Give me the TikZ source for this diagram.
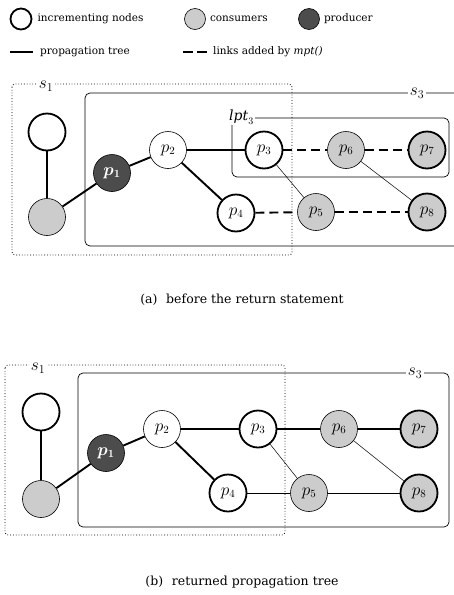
\documentclass[tikz,border=0pt]{standalone}
\usepackage{amsmath,amssymb}
\usepackage{fontspec}
\setmainfont{DejaVu Serif}
\usepackage{tikz}
\usetikzlibrary{positioning}

\begin{document}
\begin{tikzpicture}[x=1pt,y=-1pt]
\tikzstyle{vertex}=[circle,draw,fill=white,minimum size=37pt,inner sep=0pt,font=\fontsize{16}{16}\selectfont]
\tikzstyle{incr}=[vertex,line width=1.8pt]
\tikzstyle{cons}=[vertex,fill=black!20,line width=.6pt]
\tikzstyle{prod}=[vertex,fill=black!70,text=white,line width=.6pt]
\tikzstyle{tree}=[line width=1.9pt]
\tikzstyle{added}=[line width=1.9pt,dash pattern=on 9pt off 5pt]
\tikzstyle{link}=[line width=.5pt]
\tikzstyle{setlabel}=[fill=white,inner sep=2pt,font=\fontsize{18}{18}\selectfont]
\tikzstyle{legend}=[minimum size=21pt]
\tikzstyle{legtext}=[inner sep=0pt,font=\fontsize{10.5}{12}\selectfont]
\tikzstyle{caption}=[font=\fontsize{12.5}{14}\selectfont]
\useasboundingbox (0,0) rectangle (453,595);
% legend
    \node[incr,legend] (lgincr) at (21,19) {};
    \node[legtext,right=5pt of lgincr] {incrementing nodes};
    \node[cons,legend] (lgcons) at (195,19) {};
    \node[legtext,right=4pt of lgcons] {consumers};
    \node[prod,legend] (lgprod) at (309,19) {};
    \node[legtext,right=4pt of lgprod] {producer};
    \coordinate (lt1) at (10,52);
    \coordinate (lt2) at (33,52);
    \draw[tree] (lt1) -- (lt2);
    \node[legtext,right=7pt of lt2] {propagation tree};
    \coordinate (ld1) at (183,52);
    \coordinate (ld2) at (207,52);
    \draw[added,dash pattern=on 10pt off 4pt] (ld1) -- (ld2);
    \node[legtext,right=6pt of ld2] {links added by \textit{mpt()}};
% (a) before the return statement
    \draw[dotted,line width=.8pt,rounded corners=3pt] (12,84) rectangle (292,255);
    \node[setlabel] at (46,86) {$s_1$};
    \draw[line width=.7pt,rounded corners=5pt] (455,93) -- (85,93) -- (85,246) -- (455,246);
    \node[setlabel] at (417,93) {$s_3$};
    \draw[line width=.7pt,rounded corners=5pt] (232,118) rectangle (449,177);
    \node[setlabel,anchor=west,font=\fontsize{14}{14}\selectfont,inner sep=1pt] at (228,117) {$\mathit{lpt}_3$};
    \node[incr] (ai) at (47,132) {};
    \node[cons] (ac) at (47,217) {};
    \node[prod] (a1) at (112,173) {$\boldsymbol{p_1}$};
    \node[vertex,line width=.6pt] (a2) at (168,150) {$p_2$};
    \node[incr] (a3) at (264,150) {$p_3$};
    \node[incr] (a4) at (236,213) {$p_4$};
    \node[cons] (a5) at (316,212) {$p_5$};
    \node[cons] (a6) at (346,150) {$p_6$};
    \node[cons,line width=1.8pt] (a7) at (427,150) {$p_7$};
    \node[cons,line width=1.8pt] (a8) at (427,212) {$p_8$};
    \draw[tree] (ai) -- (ac);
    \draw[tree] (ac) -- (a1);
    \draw[tree] (a1) -- (a2);
    \draw[tree] (a2) -- (a3);
    \draw[tree] (a2) -- (a4);
    \draw[added] (a3) -- (a6);
    \draw[added] (a6) -- (a7);
    \draw[added] (a4) -- (a5);
    \draw[added] (a5) -- (a8);
    \draw[link] (a3) -- (a5);
    \draw[link] (a6) -- (a8);
    \node[caption] at (242,300) {(a)\hspace{0.7em}before the return statement};
% (b) returned propagation tree
    \draw[dotted,line width=.8pt,rounded corners=3pt] (5,365) rectangle (285,535);
    \node[setlabel] at (38,368) {$s_1$};
    \draw[line width=.7pt,rounded corners=5pt] (78,373) rectangle (449,527);
    \node[setlabel] at (415,373) {$s_3$};
    \node[incr] (bi) at (41,412) {};
    \node[cons] (bc) at (41,499) {};
    \node[prod] (b1) at (106,453) {$\boldsymbol{p_1}$};
    \node[vertex,line width=.6pt] (b2) at (162,429) {$p_2$};
    \node[incr] (b3) at (258,429) {$p_3$};
    \node[incr] (b4) at (228,493) {$p_4$};
    \node[cons] (b5) at (309,493) {$p_5$};
    \node[cons] (b6) at (339,429) {$p_6$};
    \node[cons,line width=1.8pt] (b7) at (419,429) {$p_7$};
    \node[cons,line width=1.8pt] (b8) at (419,493) {$p_8$};
    \draw[tree] (bi) -- (bc);
    \draw[tree] (bc) -- (b1);
    \draw[tree] (b1) -- (b2);
    \draw[tree] (b2) -- (b3);
    \draw[tree] (b2) -- (b4);
    \draw[tree] (b3) -- (b6);
    \draw[tree] (b6) -- (b7);
    \draw[link] (b4) -- (b5);
    \draw[link] (b5) -- (b8);
    \draw[link] (b3) -- (b5);
    \draw[link] (b6) -- (b8);
    \node[caption] at (242,582) {(b)\hspace{0.7em}returned propagation tree};
\end{tikzpicture}
\end{document}
